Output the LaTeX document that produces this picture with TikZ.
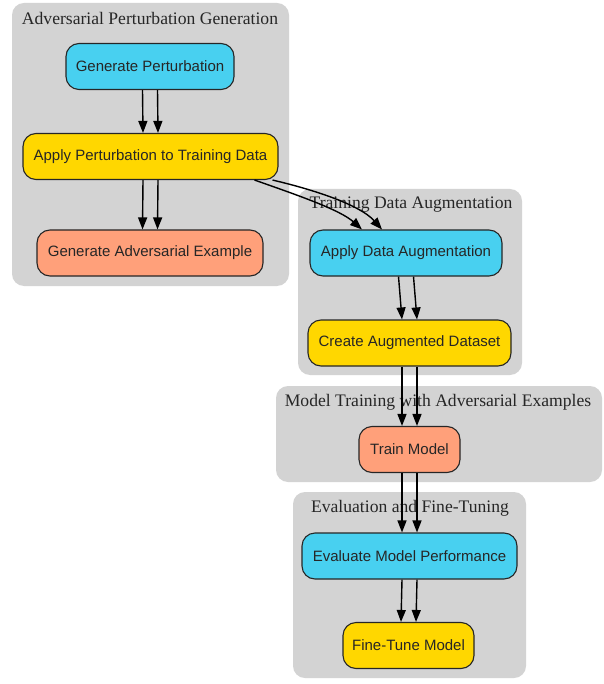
\documentclass[tikz,border=0pt]{standalone}
\usepackage{fontspec}
\setmainfont{Liberation Serif}
\newfontfamily\nodefont{Liberation Sans}
\usetikzlibrary{arrows.meta}
\definecolor{clustergray}{RGB}{211,211,211}
\definecolor{skyfill}{RGB}{72,208,240}
\definecolor{goldfill}{RGB}{255,215,0}
\definecolor{salmonfill}{RGB}{255,160,122}
\tikzset{
  cluster/.style={fill=clustergray, draw=none, rounded corners=12pt},
  clustertitle/.style={font=\fontsize{17.6}{21}\selectfont, text=black!85, inner sep=0pt},
  stepbox/.style={draw=black!85, line width=1.1pt, rounded corners=13pt, minimum height=46pt,
    inner sep=0pt, font=\nodefont\fontsize{15}{18}\selectfont, text=black!85},
  flow/.style={draw=black, line width=1.4pt, -{Triangle[length=12pt,width=9pt]}},
}
\begin{document}
\begin{tikzpicture}[x=1pt,y=-1pt]
\useasboundingbox (0,0) rectangle (603,684);

% cluster backgrounds
\fill[cluster] (12,3) rectangle (289,286);
\fill[cluster] (298,189) rectangle (522,375);
\fill[cluster] (276,386) rectangle (602,482);
\fill[cluster] (293,492) rectangle (526,678);

% cluster titles
\node[clustertitle] (t1) at (150,18) {Adversarial Perturbation Generation};
\node[clustertitle] (t2) at (411,205) {Training Data Augmentation};
\node[clustertitle] (t3) at (438,402) {Model Training with Adversarial Examples};
\node[clustertitle] (t4) at (410,508) {Evaluation and Fine-Tuning};

% steps
\node[stepbox, fill=skyfill, minimum width=168pt] (gp) at (150,66.5) {Generate Perturbation};
\node[stepbox, fill=goldfill, minimum width=255pt] (ap) at (150.5,156.5) {Apply Perturbation to Training Data};
\node[stepbox, fill=salmonfill, minimum width=226pt] (ga) at (150,253) {Generate Adversarial Example};
\node[stepbox, fill=skyfill, minimum width=192pt] (ad) at (406,253) {Apply Data Augmentation};
\node[stepbox, fill=goldfill, minimum width=203pt] (ca) at (409.5,343) {Create Augmented Dataset};
\node[stepbox, fill=salmonfill, minimum width=101pt] (tm) at (409.5,449.5) {Train Model};
\node[stepbox, fill=skyfill, minimum width=215pt] (ev) at (409.5,556) {Evaluate Model Performance};
\node[stepbox, fill=goldfill, minimum width=131pt] (ft) at (408.5,645.5) {Fine-Tune Model};

% connectors, each drawn twice side by side
\foreach \s in {-7.5,7.5} {
  \draw[flow] ([xshift=\s pt]gp.south) -- ([xshift=\s pt]ap.north);
  \draw[flow] ([xshift=\s pt]ap.south) -- ([xshift=\s pt]ga.north);
  \draw[flow] ([xshift=\s pt]ad.south) -- ([xshift=\s pt]ca.north);
  \draw[flow] ([xshift=\s pt]ca.south) -- ([xshift=\s pt]tm.north);
  \draw[flow] ([xshift=\s pt]tm.south) -- ([xshift=\s pt]ev.north);
  \draw[flow] ([xshift=\s pt]ev.south) -- ([xshift=\s pt]ft.north);
}
\draw[flow] ([xshift=-24pt]ap.south east) .. controls (300,196) and (340,210) .. ([xshift=-44pt]ad.north);
\draw[flow] ([xshift=-6pt]ap.south east) .. controls (315,190) and (360,205) .. ([xshift=-24pt]ad.north);
\end{tikzpicture}
\end{document}
